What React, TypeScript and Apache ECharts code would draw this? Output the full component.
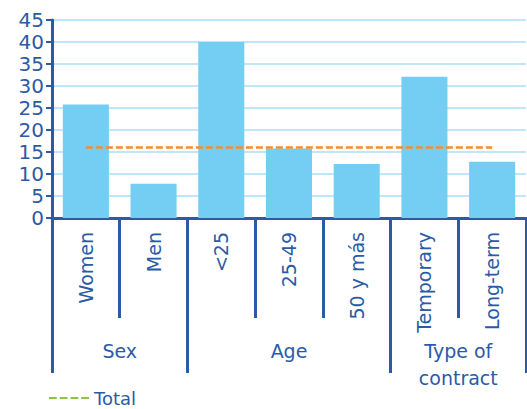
import React, { useEffect, useRef } from "react";
import * as echarts from "echarts";

const categories = ["Women", "Men", "<25", "25-49", "50 y más", "Temporary", "Long-term"];
const values = [25.8, 7.8, 40, 15.8, 12.3, 32.1, 12.8];
const totalValue = 16;
const totalLine = categories.map(() => totalValue);
const groupLabels = ["Sex", "Age", "Type of\ncontract"];
// group sizes in categories: Sex 2, Age 3, Type of contract 2
const groupSizes = [2, 3, 2];

const BLUE = "#2A5BA7";
const FONT = "DejaVu Sans";

export default function App() {
  const ref = useRef<HTMLDivElement>(null);
  useEffect(() => {
    if (!ref.current) return;
    const chart = echarts.init(ref.current, undefined, { renderer: "svg" });
    const nPts = categories.length * 2 + 1;
    const groupData: string[] = new Array(nPts).fill("");
    const tickIdx: number[] = [0];
    const labelIdx: number[] = [];
    let acc = 0;
    groupSizes.forEach((s, i) => {
      const center = acc * 2 + s;
      groupData[center] = groupLabels[i];
      labelIdx.push(center);
      acc += s;
      tickIdx.push(acc * 2);
    });
    chart.setOption({
      animation: false,
      grid: { left: 52, right: 1, top: 20, bottom: 191 },
      legend: {
        left: 44,
        top: 384,
        itemWidth: 40,
        itemHeight: 14,
        itemGap: 7,
        textStyle: { color: BLUE, fontSize: 18, fontFamily: FONT },
        data: [
          {
            name: "Total",
            icon: "path://M0,0 L8,0 L8,2 L0,2 Z M11,0 L19,0 L19,2 L11,2 Z M22,0 L30,0 L30,2 L22,2 Z M33,0 L41,0 L41,2 L33,2 Z",
            itemStyle: { color: "#8CC63F" },
          },
        ],
      },
      xAxis: [
        {
          type: "category",
          data: categories,
          axisLine: { lineStyle: { color: BLUE, width: 3 } },
          axisTick: { show: true, length: 100, interval: 0, lineStyle: { color: BLUE, width: 3 } },
          axisLabel: {
            rotate: 90,
            interval: 0,
            margin: 14,
            color: BLUE,
            fontSize: 19,
            fontFamily: FONT,
          },
        },
        {
          type: "category",
          position: "bottom",
          boundaryGap: false,
          data: groupData,
          axisLine: { show: false },
          axisTick: {
            show: true,
            length: 155,
            interval: (i: number) => tickIdx.includes(i),
            lineStyle: { color: BLUE, width: 3 },
          },
          axisLabel: {
            interval: (i: number) => labelIdx.includes(i),
            margin: 119,
            color: BLUE,
            fontSize: 19,
            fontFamily: FONT,
            lineHeight: 27,
          },
        },
      ],
      yAxis: {
        type: "value",
        min: 0,
        max: 45,
        interval: 5,
        axisLine: { show: true, lineStyle: { color: BLUE, width: 3 } },
        axisTick: { show: true, length: 6, lineStyle: { color: BLUE, width: 2 } },
        axisLabel: { color: BLUE, fontSize: 20, fontFamily: FONT, margin: 8 },
        splitLine: { lineStyle: { color: "#A8E1F8", width: 1.5 } },
      },
      series: [
        {
          type: "bar",
          data: values,
          barWidth: "68%",
          itemStyle: { color: "#74CDF2" },
          xAxisIndex: 0,
        },
        {
          type: "line",
          name: "Total",
          data: totalLine,
          symbol: "none",
          xAxisIndex: 0,
          lineStyle: { color: "#F28E32", width: 2.5, type: [7, 3] },
          itemStyle: { color: "#F28E32" },
          z: 5,
        },
      ],
    });
    return () => chart.dispose();
  }, []);
  return (
    <div
      ref={ref}
      style={{ position: "absolute", left: 0, top: 0, width: 527, height: 409, background: "#fff" }}
    />
  );
}
